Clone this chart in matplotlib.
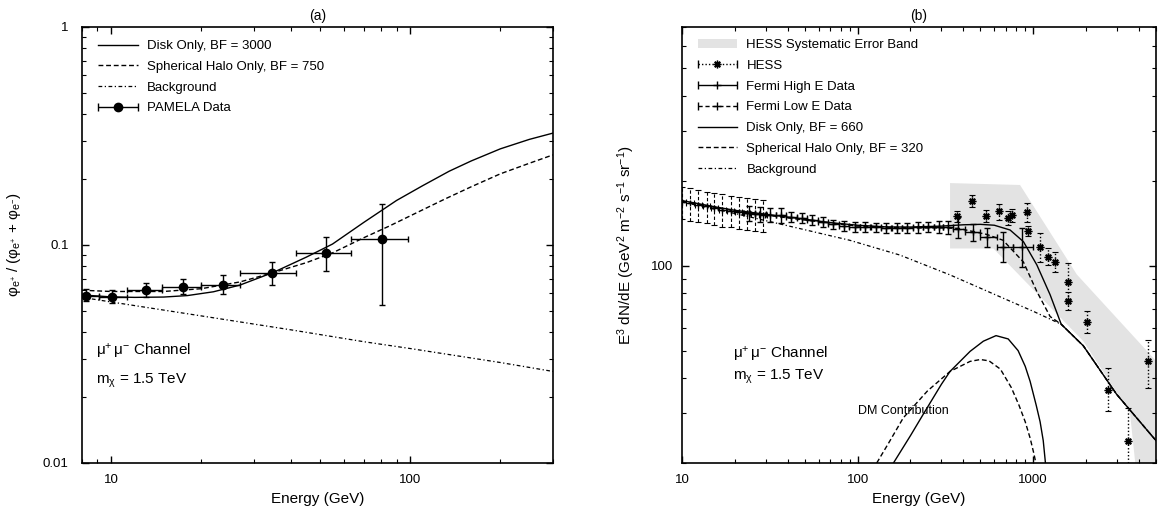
import matplotlib
matplotlib.use('Agg')
import matplotlib.pyplot as plt
from matplotlib.container import ErrorbarContainer
from matplotlib.legend_handler import HandlerErrorbar
from matplotlib.lines import Line2D
from matplotlib.collections import LineCollection
from matplotlib.patches import Patch
from matplotlib.ticker import NullFormatter

plt.rcParams['font.family'] = ['Liberation Sans', 'DejaVu Sans']
plt.rcParams['mathtext.fontset'] = 'custom'
plt.rcParams['mathtext.rm'] = 'Liberation Sans'
plt.rcParams['mathtext.it'] = 'Liberation Sans:italic'
plt.rcParams['mathtext.default'] = 'regular'

# ---------------- panel (a): positron fraction ----------------
pamela_E = [8.25, 10.1, 13.1, 17.4, 23.7, 34.5, 52.4, 80.3]
pamela_E_lo = [0.85, 1.0, 1.8, 2.6, 3.7, 7.5, 11.0, 16.9]
pamela_E_hi = [0.85, 1.2, 1.7, 2.6, 3.3, 6.9, 11.0, 18.3]
pamela_frac = [0.0585, 0.0579, 0.0622, 0.0640, 0.0655, 0.0744, 0.0916, 0.107]
pamela_err_lo = [0.0031, 0.0038, 0.0043, 0.0046, 0.0061, 0.0088, 0.0154, 0.0537]
pamela_err_hi = [0.0044, 0.0043, 0.0045, 0.0057, 0.0071, 0.0094, 0.0174, 0.047]

disk_E_a = [8, 10, 12, 15, 18, 22, 27, 35, 45, 55, 70, 90, 110, 135, 160, 200, 250, 300]
disk_a = [0.0590, 0.0578, 0.0575, 0.0577, 0.0586, 0.0610, 0.0655, 0.0750, 0.0880,
          0.101, 0.127, 0.160, 0.187, 0.218, 0.243, 0.276, 0.305, 0.326]

halo_E_a = [8, 10, 15, 20, 27, 35, 45, 55, 70, 85, 100, 130, 160, 200, 250, 300]
halo_a = [0.0620, 0.0612, 0.0612, 0.0630, 0.0677, 0.0748, 0.0830, 0.0920, 0.108,
          0.122, 0.136, 0.162, 0.185, 0.212, 0.237, 0.259]

bg_E_a = [8, 10, 20, 40, 70, 100, 200, 300]
bg_a = [0.0575, 0.0548, 0.0473, 0.0408, 0.0360, 0.0335, 0.0289, 0.0263]

# ---------------- panel (b): E^3 dN/dE ----------------
fermi_hi_E = [24.2, 27.8, 31.9, 36.6, 42.0, 48.2, 55.3, 63.5, 72.9, 83.7, 96.1, 110,
              127, 145, 167, 192, 220, 253, 290, 326, 374, 452, 543, 673, 859]
fermi_hi_E_lo = [1.7, 1.8, 2.1, 2.4, 2.7, 3.1, 3.6, 4.1, 4.7, 5.4, 6.2, 7.0,
                 8.3, 9.4, 10.9, 12.5, 14.3, 16.4, 18.9, 18, 24, 42, 43, 54, 89]
fermi_hi_E_hi = [1.8, 2.1, 2.4, 2.7, 3.1, 3.6, 4.1, 4.7, 5.4, 6.2, 7.0, 8.3,
                 9.4, 10.9, 12.5, 14.3, 16.4, 18.9, 18, 24, 36, 48, 76, 97, 134]
fermi_hi = [153, 152, 151.5, 150.5, 149, 147, 145, 142.5, 140, 138.5, 137.5, 137,
            136.5, 136, 136, 136, 136.5, 137, 137, 136.5, 135, 132, 126, 116, 116]
fermi_hi_err_lo = [9, 9, 9, 9, 6, 6, 6, 6, 5.5, 5.5, 5.5, 5.5,
                   5.5, 5.5, 5.5, 5.5, 6, 6, 6.5, 7, 9.5, 10, 9.5, 13, 17]
fermi_hi_err_hi = [9, 9, 9, 9, 6, 6, 6, 6, 5.5, 5.5, 5.5, 5.5,
                   5.5, 5.5, 5.5, 5.5, 6, 6, 6.5, 7, 14, 8, 9.5, 16, 20]

fermi_lo_E = [10.0, 11.1, 12.4, 13.8, 15.3, 17.0, 18.9, 21.0, 23.4, 26.0, 28.9]
fermi_lo_Eerr = [0.5, 0.55, 0.6, 0.7, 0.75, 0.85, 0.95, 1.05, 1.15, 1.3, 1.45]
fermi_lo = [168, 166, 164, 162, 160, 158, 156.5, 155, 153.5, 152.5, 151.5]
fermi_lo_err = [22, 22, 21, 21, 21, 21, 20, 20, 20, 19.5, 19.5]

hess_E = [370, 449, 536, 636, 716, 757, 918, 931, 1097, 1213, 1325, 1585, 1585,
          2032, 2655, 3453, 4518]
hess = [149.8, 169.3, 149.8, 156, 147.7, 151, 155, 132.6, 116.7, 107.6, 103.3,
        87.8, 75.0, 63.4, 36.4, 23.9, 46]
hess_err_lo = [7, 8, 7, 11, 8, 8.5, 12.5, 5, 13.7, 7.5, 8, 12, 5.5, 5.8, 5.9, 10, 9.1]
hess_err_hi = [6, 8, 7, 9, 8, 8, 12, 5, 13.3, 7.5, 8, 14, 5.5, 5.4, 7, 7.5, 8.6]

band_E = [336, 841, 1771, 5000, 5000, 4000, 3556, 1928, 593, 336]
band = [196, 193, 93, 46, 10, 15, 30, 54, 115, 115]

disk_E_b = [10, 15, 20, 30, 50, 70, 100, 150, 200, 300, 400, 500, 600, 738, 879,
            1048, 1248, 1443, 1928, 2985, 5000]
disk_b = [170, 162, 157, 152, 146, 142, 139, 137, 137, 138, 139.5, 140, 139, 133.7,
          121.6, 100.6, 78.8, 62, 52, 35, 24]

halo_E_b = [10, 20, 50, 100, 200, 300, 374, 543, 673, 879, 1048, 1248, 1443, 1928,
            2985, 5000]
halo_b = [169, 156, 145, 138, 136, 136, 135.5, 129, 123, 103, 81, 66, 62, 52, 35, 24]

bg_E_b = [10, 20, 50, 90, 174, 336, 700, 1000, 1443, 1928, 2985, 5000]
bg_b = [168, 153, 134, 123, 109, 92.7, 75.9, 68.9, 62, 52, 35, 24]

dm_disk_E = [160, 200, 236, 300, 336, 437, 520, 614, 720, 820, 900, 960, 1040, 1094,
             1140, 1183]
dm_disk = [20, 25, 29.7, 38, 42.2, 49.7, 54, 56.5, 55, 50, 44, 38.9, 32, 28, 24, 19]

dm_halo_E = [128.5, 150, 182, 250, 336, 437, 500, 560, 650, 750, 830, 900, 960,
             1010, 1052]
dm_halo = [20, 23.5, 28.9, 36, 42.2, 45.8, 46.5, 46, 43, 37, 32, 28, 24.5, 21.5, 19]

DASH = (3.5, 2.0)
DASHDOT = (3.0, 2.0, 1.0, 2.0)
ASTER = (8, 2, 0)


def eb_proxy(marker, ms, ls, label, mfc='k'):
    # legend handle that shows a horizontal error bar with caps
    line = Line2D([], [], color='k', marker=marker, markersize=ms,
                  markerfacecolor=mfc, linestyle='none')
    cap = Line2D([], [], color='k', marker='|', markersize=6, linestyle='none')
    bar = LineCollection([], colors='k', linestyles=ls, linewidths=1.0)
    return ErrorbarContainer((line, (cap, cap), (bar,)), has_xerr=True,
                             has_yerr=False, label=label)


def style_axes(ax):
    ax.set_xscale('log')
    ax.set_yscale('log')
    ax.tick_params(which='both', direction='in', top=True, right=True,
                   labelsize=9.5)
    ax.tick_params(which='major', length=5, width=1)
    ax.tick_params(which='minor', length=3, width=0.8)
    ax.tick_params(axis='x', pad=8)
    ax.xaxis.set_minor_formatter(NullFormatter())
    ax.yaxis.set_minor_formatter(NullFormatter())
    for s in ax.spines.values():
        s.set_linewidth(1.2)


fig = plt.figure(figsize=(11.61, 5.08), dpi=100)
ax1 = fig.add_axes([0.0706, 0.0886, 0.4057, 0.8583])
ax2 = fig.add_axes([0.5874, 0.0886, 0.4083, 0.8583])

leg_kw = dict(loc='upper left', frameon=False, fontsize=9.5, handlelength=3.0,
              handletextpad=0.7, labelspacing=0.64, borderpad=0,
              borderaxespad=0, numpoints=1,
              handler_map={ErrorbarContainer: HandlerErrorbar(xerr_size=1.5)})

# ---- (a)
style_axes(ax1)
l1, = ax1.plot(disk_E_a, disk_a, color='k', lw=1.0, label='Disk Only, BF = 3000')
l2, = ax1.plot(halo_E_a, halo_a, color='k', lw=1.0, dashes=DASH,
               label='Spherical Halo Only, BF = 750')
l3, = ax1.plot(bg_E_a, bg_a, color='k', lw=0.9, dashes=DASHDOT, label='Background')
ax1.errorbar(pamela_E, pamela_frac, xerr=[pamela_E_lo, pamela_E_hi],
             yerr=[pamela_err_lo, pamela_err_hi], fmt='o', color='k', ms=6,
             capsize=2.5, elinewidth=1, capthick=1, zorder=4)
ax1.set_xlim(8, 300)
ax1.set_ylim(0.01, 1)
ax1.set_xticks([10, 100])
ax1.set_xticklabels(['10', '100'])
ax1.set_yticks([0.01, 0.1, 1])
ax1.set_yticklabels(['0.01', '0.1', '1'])
ax1.tick_params(axis='y', pad=9.5)
ax1.set_xlabel('Energy (GeV)', fontsize=11)
ax1.set_ylabel(r'φ$_{e^{+}}$ / (φ$_{e^{+}}$ + φ$_{e^{-}}$)', fontsize=11)
ax1.xaxis.set_label_coords(0.5, -0.066)
ax1.yaxis.set_label_coords(-0.125, 0.5)
ax1.set_title('(a)', fontsize=10, pad=5)
ax1.legend(handles=[l1, l2, l3, eb_proxy('o', 6, '-', 'PAMELA Data')],
           bbox_to_anchor=(0.034, 0.970), **leg_kw)
ax1.text(0.03, 0.255, r'$\mu^{+}\,\mu^{-}$ Channel', transform=ax1.transAxes,
         fontsize=11, va='center')
ax1.text(0.03, 0.188, r'm$_{\chi}$ = 1.5 TeV', transform=ax1.transAxes,
         fontsize=11, va='center')

# ---- (b)
style_axes(ax2)
ax2.fill(band_E, band, color='#e3e3e3', lw=0, zorder=0)
ax2.plot(bg_E_b, bg_b, color='k', lw=0.9, dashes=DASHDOT, zorder=2)
ax2.plot(halo_E_b, halo_b, color='k', lw=1.0, dashes=DASH, zorder=2)
ax2.plot(disk_E_b, disk_b, color='k', lw=1.0, zorder=2)
ax2.plot(dm_disk_E, dm_disk, color='k', lw=1.0, zorder=2)
ax2.plot(dm_halo_E, dm_halo, color='k', lw=1.0, dashes=DASH, zorder=2)

eb_lo = ax2.errorbar(fermi_lo_E, fermi_lo, xerr=fermi_lo_Eerr, yerr=fermi_lo_err,
                     fmt='+', color='k', ms=5, capsize=2.5, elinewidth=0.8,
                     capthick=0.8, zorder=3)
for c in eb_lo[2]:
    c.set_linestyle((0, (3, 2)))
ax2.errorbar(fermi_hi_E, fermi_hi, xerr=[fermi_hi_E_lo, fermi_hi_E_hi],
             yerr=[fermi_hi_err_lo, fermi_hi_err_hi], fmt='+', color='k', ms=5,
             capsize=2.5, elinewidth=1, capthick=1, zorder=3)
eb_h = ax2.errorbar(hess_E, hess, yerr=[hess_err_lo, hess_err_hi], fmt='none',
                    ecolor='k', capsize=2.5, elinewidth=1, capthick=0.8, zorder=3)
for c in eb_h[2]:
    c.set_linestyle((0, (1, 1.5)))
ax2.plot(hess_E, hess, linestyle='none', marker=ASTER, ms=5.5, color='k',
         mew=1.0, zorder=4)

ax2.set_xlim(10, 5000)
ax2.set_ylim(20, 700)
ax2.set_xticks([10, 100, 1000])
ax2.set_xticklabels(['10', '100', '1000'])
ax2.set_yticks([100])
ax2.set_yticklabels(['100'])
ax2.tick_params(axis='y', pad=6)
ax2.set_xlabel('Energy (GeV)', fontsize=11)
ax2.set_ylabel(r'E$^{3}$ dN/dE (GeV$^{2}$ m$^{-2}$ s$^{-1}$ sr$^{-1}$)', fontsize=11)
ax2.xaxis.set_label_coords(0.5, -0.066)
ax2.yaxis.set_label_coords(-0.095, 0.5)
ax2.set_title('(b)', fontsize=10, pad=5)

band_patch = Patch(facecolor='#e3e3e3', edgecolor='none',
                   label='HESS Systematic Error Band')
hess_h = eb_proxy(ASTER, 5.5, (0, (1, 1.5)), 'HESS')
fhi_h = eb_proxy('+', 6, '-', 'Fermi High E Data')
flo_h = eb_proxy('+', 6, (0, (3, 2)), 'Fermi Low E Data')
d_h = Line2D([], [], color='k', lw=1.0, label='Disk Only, BF = 660')
h_h = Line2D([], [], color='k', lw=1.0, dashes=DASH,
             label='Spherical Halo Only, BF = 320')
b_h = Line2D([], [], color='k', lw=0.9, dashes=DASHDOT, label='Background')
ax2.legend(handles=[band_patch, hess_h, fhi_h, flo_h, d_h, h_h, b_h],
           bbox_to_anchor=(0.033, 0.972), **leg_kw)
ax2.text(0.107, 0.248, r'$\mu^{+}\,\mu^{-}$ Channel', transform=ax2.transAxes,
         fontsize=11, va='center')
ax2.text(0.107, 0.197, r'm$_{\chi}$ = 1.5 TeV', transform=ax2.transAxes,
         fontsize=11, va='center')
ax2.text(100, 30.5, 'DM Contribution', fontsize=9, va='center')

fig.savefig('out.png', dpi=100)
